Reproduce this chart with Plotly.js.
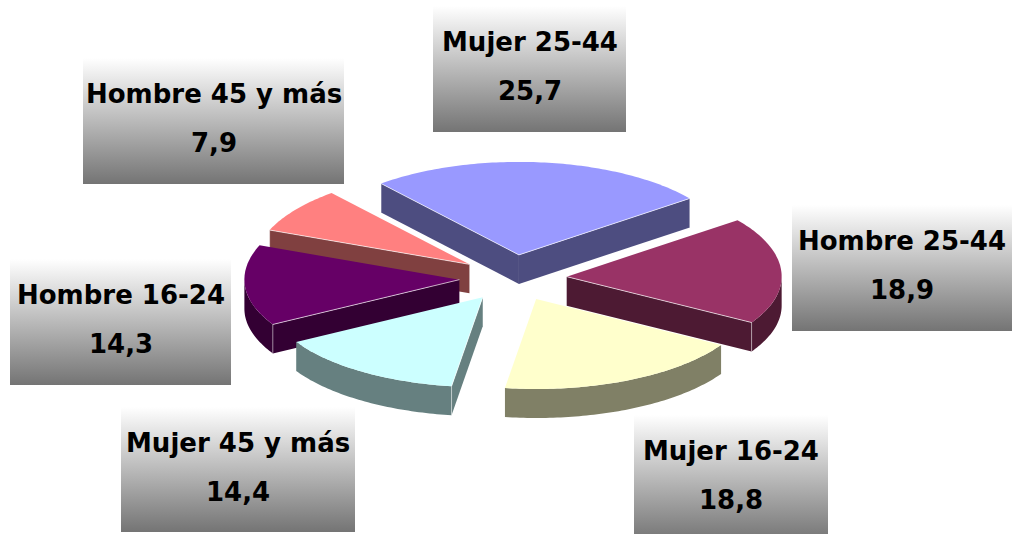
<!DOCTYPE html>
<html>
<head>
<meta charset="utf-8">
<script src="https://cdn.plot.ly/plotly-3.0.1.min.js"></script>
<style>html,body{margin:0;padding:0;background:#fff}#chart{width:1012px;height:534px}</style>
</head>
<body>
<div id="chart"></div>
<script>
// Data, clockwise from the start angle
const categories = ['Mujer 25-44','Hombre 25-44','Mujer 16-24','Mujer 45 y más','Hombre 16-24','Hombre 45 y más'];
const values = [25.7,18.9,18.8,14.4,14.3,7.9];
const topColors = ['#9999FF','#993366','#FFFFCC','#CCFFFF','#660066','#FF8080'];
const sideColors = ['#4D4D80','#4D1A33','#808066','#668080','#330033','#804040'];
// Label panels: left, right, top, bottom (Mujer 16-24 runs off the bottom of the picture)
const boxLeft = [433,792,634,121,10,83];
const boxRight = [626,1012,828,355,231,344];
const boxTop = [6,205,415,407,259,58];
const boxBottom = [132,331,541,532,385,184];

// Projection of the tilted pie (the near half is very slightly flatter)
const CX=513, CY=278, RX=215, RY_BACK=93, RY_FRONT=90, DEPTH=29, EXPLODE=0.25, START=-39.9;
const total = values.reduce((a,b)=>a+b,0);
const rad = d=>d*Math.PI/180;
const pt = (o,d)=>{
  const c=Math.cos(rad(d));
  return [o[0]+RX*Math.sin(rad(d)), o[1]-(c>0?RY_BACK:RY_FRONT)*c];
};

let acc = START;
const slices = values.map((v,i)=>{
  const a0=acc, a1=acc+v/total*360; acc=a1;
  const m=(a0+a1)/2;
  const apex=[CX+EXPLODE*RX*Math.sin(rad(m)), CY-EXPLODE*RY_BACK*Math.cos(rad(m))];
  return {i,a0,a1,apex};
}).sort((p,q)=>p.apex[1]-q.apex[1]);

function arc(o,a0,a1){
  const out=[]; const n=Math.max(2,Math.ceil(Math.abs(a1-a0)));
  for(let k=0;k<=n;k++) out.push(pt(o,a0+(a1-a0)*k/n));
  return out;
}
function poly(points,color){
  const xs=points.map(p=>p[0]), ys=points.map(p=>p[1]);
  return {type:'scatter',mode:'none',x:xs.concat(xs[0]),y:ys.concat(ys[0]),fill:'toself',
    fillcolor:color,hoverinfo:'skip',showlegend:false};
}
function edge(a,b,w,color){
  return {type:'scatter',mode:'lines',x:[a[0],b[0]],y:[a[1],b[1]],line:{color,width:w},hoverinfo:'skip',showlegend:false};
}
const down=p=>[p[0],p[1]+DEPTH];
const traces=[];

// Gradient label panels
categories.forEach((c,i)=>{
  traces.push({type:'scatter',mode:'none',
    x:[boxLeft[i],boxRight[i],boxRight[i],boxLeft[i],boxLeft[i]],
    y:[boxTop[i],boxTop[i],boxBottom[i],boxBottom[i],boxTop[i]],
    fill:'toself',
    fillgradient:{type:'vertical',colorscale:[[0,'#747474'],[1,'#FFFFFF']]},
    hoverinfo:'skip',showlegend:false});
});

// Slices, back to front
slices.forEach(s=>{
  const side=sideColors[s.i], top=topColors[s.i], o=s.apex;
  const p0=pt(o,s.a0), p1=pt(o,s.a1);
  const faces=[];
  if(Math.sin(rad(s.a0))<0) faces.push(p0);
  if(Math.sin(rad(s.a1))>0) faces.push(p1);
  faces.forEach(p=>traces.push(poly([o,p,down(p),down(o)],side)));
  // rim: front half of the ellipse (90..270 degrees)
  const lo=Math.max(s.a0,90), hi=Math.min(s.a1,270);
  if(hi>lo){
    const rim=arc(o,lo,hi);
    traces.push(poly(rim.concat(rim.slice().reverse().map(down)),side));
  }
  traces.push(poly([o].concat(arc(o,s.a0,s.a1)),top));
  // light seams on visible cut edges
  faces.forEach(p=>traces.push(edge(o,p,1,'rgba(255,255,255,0.65)')));
  faces.forEach(p=>traces.push(edge(p,down(p),1,'rgba(255,255,255,0.45)')));
});

const FONT={family:'"DejaVu Sans", sans-serif',size:26,color:'#000000',weight:700};
const annotations=[];
categories.forEach((c,i)=>{
  const xc=(boxLeft[i]+boxRight[i])/2;
  [c,values[i].toFixed(1).replace('.',',')].forEach((t,row)=>{
    annotations.push({text:'<b>'+t+'</b>',x:xc,y:boxTop[i]+36+row*49,xref:'x',yref:'y',showarrow:false,
      xanchor:'center',yanchor:'middle',font:FONT});
  });
});

Plotly.newPlot('chart',traces,{
  width:1012,height:534,margin:{l:0,r:0,t:0,b:0},paper_bgcolor:'#fff',plot_bgcolor:'#fff',showlegend:false,
  xaxis:{range:[0,1012],visible:false,fixedrange:true},
  yaxis:{range:[534,0],visible:false,fixedrange:true},
  annotations
},{displayModeBar:false,staticPlot:true});
</script>
</body>
</html>
